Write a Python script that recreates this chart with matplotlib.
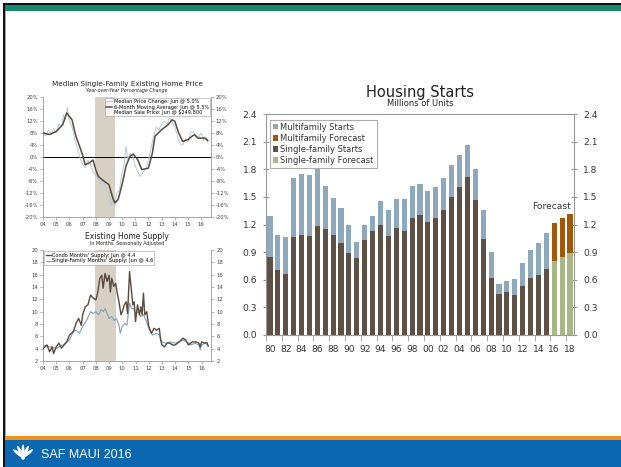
import matplotlib
matplotlib.use("Agg")
import matplotlib.pyplot as plt
from matplotlib.patches import Rectangle, Ellipse
import numpy as np

# Housing starts (millions of units)
start_years = list(range(1980, 2016))
total_starts = [1.292, 1.084, 1.062, 1.703, 1.750, 1.742, 1.805, 1.621, 1.488, 1.376,
                1.193, 1.014, 1.200, 1.288, 1.457, 1.354, 1.477, 1.474, 1.617, 1.641,
                1.569, 1.603, 1.705, 1.848, 1.956, 2.068, 1.801, 1.355, 0.906, 0.554,
                0.587, 0.609, 0.781, 0.925, 1.003, 1.112]
single_starts = [0.852, 0.705, 0.663, 1.068, 1.084, 1.072, 1.179, 1.146, 1.081, 1.003,
                 0.895, 0.840, 1.030, 1.126, 1.198, 1.076, 1.161, 1.134, 1.271, 1.302,
                 1.231, 1.273, 1.359, 1.499, 1.611, 1.716, 1.465, 1.046, 0.622, 0.445,
                 0.471, 0.431, 0.535, 0.618, 0.648, 0.715]
fc_years = [2016, 2017, 2018]
fc_total = [1.22, 1.27, 1.31]
fc_single = [0.80, 0.85, 0.89]

# Median single-family existing home price, y/y % change
price_x = [2004.0, 2004.2, 2004.4, 2004.6, 2004.8, 2005.0, 2005.2, 2005.4, 2005.55, 2005.7,
           2005.85, 2006.0, 2006.2, 2006.4, 2006.6, 2006.8, 2007.0, 2007.2, 2007.4, 2007.6,
           2007.8, 2008.0, 2008.2, 2008.4, 2008.6, 2008.8, 2009.0, 2009.15, 2009.3, 2009.45,
           2009.6, 2009.8, 2010.0, 2010.15, 2010.3, 2010.45, 2010.6, 2010.8, 2011.0, 2011.2,
           2011.4, 2011.6, 2011.8, 2012.0, 2012.2, 2012.4, 2012.6, 2012.8, 2013.0, 2013.2,
           2013.4, 2013.6, 2013.8, 2014.0, 2014.2, 2014.4, 2014.6, 2014.8, 2015.0, 2015.2,
           2015.4, 2015.6, 2015.8, 2016.0, 2016.2, 2016.4, 2016.5]
price_chg = [8.5, 7.0, 9.0, 7.5, 9.5, 8.0, 11.0, 10.0, 14.0, 12.5,
             16.5, 12.0, 10.0, 6.0, 3.0, 0.0, -2.5, -3.5, -1.0, -2.5,
             -5.0, -6.0, -7.5, -9.0, -8.0, -11.0, -12.0, -16.5, -14.0, -16.5,
             -12.0, -11.0, -5.0, -3.0, 3.5, -1.0, 1.0, 0.5, -3.0, -5.0,
             -6.5, -5.0, -4.0, -1.0, 3.0, 7.0, 10.0, 9.0, 11.0, 12.0,
             11.0, 13.0, 11.5, 10.0, 7.0, 4.5, 4.0, 6.0, 5.0, 8.0,
             8.5, 7.0, 6.5, 8.0, 5.5, 6.0, 5.0]
ma_x = [2004.0, 2004.5, 2005.0, 2005.5, 2005.8, 2006.2, 2006.5, 2007.0, 2007.2, 2007.5,
        2007.8, 2008.0, 2008.2, 2008.5, 2009.0, 2009.3, 2009.45, 2009.7, 2010.0, 2010.3,
        2010.6, 2010.85, 2011.2, 2011.5, 2012.0, 2012.3, 2012.5, 2013.0, 2013.5, 2013.8,
        2014.0, 2014.3, 2014.6, 2015.0, 2015.3, 2015.5, 2015.75, 2016.0, 2016.3, 2016.5]
ma_chg = [8.0, 7.5, 8.5, 10.8, 14.7, 12.4, 6.9, 0.8, -2.6, -2.0,
          -1.0, -4.2, -6.5, -7.6, -9.2, -13.7, -15.3, -14.2, -9.2, -3.0,
          0.2, 1.0, -1.0, -4.2, -3.7, 1.3, 6.9, 9.1, 10.8, 12.4,
          11.9, 8.0, 5.2, 5.8, 6.9, 7.4, 6.3, 6.3, 6.3, 5.5]

# Existing home supply, months
condo_x = [2004.0, 2004.3, 2004.5, 2004.7, 2004.8, 2005.0, 2005.2, 2005.4, 2005.6, 2005.8,
           2006.0, 2006.3, 2006.5, 2006.7, 2006.9, 2007.0, 2007.2, 2007.4, 2007.6, 2007.8,
           2008.0, 2008.15, 2008.3, 2008.45, 2008.55, 2008.7, 2008.85, 2009.0, 2009.1, 2009.2,
           2009.35, 2009.5, 2009.6, 2009.75, 2009.9, 2010.0, 2010.15, 2010.3, 2010.4, 2010.55,
           2010.65, 2010.8, 2010.9, 2011.0, 2011.15, 2011.3, 2011.4, 2011.5, 2011.6, 2011.7,
           2011.85, 2012.0, 2012.2, 2012.4, 2012.6, 2012.8, 2012.9, 2013.0, 2013.2, 2013.4,
           2013.6, 2013.8, 2014.0, 2014.3, 2014.6, 2014.8, 2015.0, 2015.3, 2015.6, 2015.8,
           2015.9, 2016.0, 2016.2, 2016.4, 2016.5]
condo_sup = [4.05, 4.6, 3.5, 4.3, 3.2, 4.3, 4.9, 4.1, 4.6, 5.1,
             6.2, 6.8, 8.1, 8.9, 7.8, 9.5, 10.8, 11.1, 12.7, 12.2,
             11.9, 13.2, 15.4, 15.9, 13.8, 16.2, 14.9, 15.9, 13.2, 15.4,
             14.1, 14.6, 13.2, 11.6, 9.5, 10.0, 11.1, 11.6, 9.7, 16.5,
             14.3, 11.1, 11.6, 8.4, 11.1, 9.5, 10.8, 9.5, 13.0, 9.5,
             10.0, 7.6, 6.5, 7.3, 7.0, 7.3, 5.4, 4.6, 4.3, 4.9,
             4.9, 4.6, 4.6, 5.1, 5.7, 5.4, 4.6, 5.1, 5.1, 4.9,
             4.3, 5.1, 4.9, 5.0, 4.4]
sf_x = [2004.0, 2004.5, 2005.0, 2005.5, 2006.0, 2006.3, 2006.5, 2006.75, 2007.0, 2007.3,
        2007.6, 2007.8, 2008.0, 2008.2, 2008.4, 2008.55, 2008.7, 2008.85, 2009.0, 2009.2,
        2009.4, 2009.55, 2009.75, 2009.85, 2010.0, 2010.2, 2010.35, 2010.55, 2010.7, 2010.85,
        2011.0, 2011.2, 2011.4, 2011.6, 2011.8, 2012.0, 2012.3, 2012.6, 2012.8, 2013.0,
        2013.3, 2013.6, 2014.0, 2014.3, 2014.6, 2014.9, 2015.2, 2015.5, 2015.8, 2015.9,
        2016.0, 2016.3, 2016.5]
sf_sup = [4.6, 4.3, 4.05, 4.6, 5.4, 6.8, 7.0, 6.5, 7.6, 8.6,
          10.0, 9.7, 10.0, 9.5, 10.3, 10.0, 10.5, 9.7, 8.9, 9.2,
          8.6, 8.9, 7.8, 6.5, 7.6, 8.1, 7.8, 11.4, 10.5, 10.5,
          9.7, 10.0, 9.2, 9.5, 8.6, 7.3, 6.2, 6.5, 6.2, 5.1,
          4.9, 5.1, 4.9, 5.1, 5.4, 5.1, 4.6, 4.9, 4.6, 3.8,
          4.6, 4.9, 4.5]

recession = (2007.95, 2009.5)
yr_labels = ["04", "05", "06", "07", "08", "09", "10", "11", "12", "13", "14", "15", "16"]

W, H = 621, 467
fig = plt.figure(figsize=(W / 100, H / 100), dpi=100)
plt.rcParams['font.family'] = ['DejaVu Sans']


def px_axes(left, top, right, bottom):
    return fig.add_axes([left / W, 1 - bottom / H, (right - left) / W, (bottom - top) / H])


def fig_rect(x0, y0, x1, y1, color):
    fig.add_artist(Rectangle((x0 / W, 1 - y1 / H), (x1 - x0) / W, (y1 - y0) / H,
                             transform=fig.transFigure, color=color, lw=0, zorder=0))


# slide frame
fig_rect(3, 3, W, 5, "#111111")
fig_rect(3, 5, W, 11, "#168a6e")
fig_rect(3, 3, 4.5, H, "#111111")
fig_rect(4.5, 11, 6, 436, "#aaaaaa")
fig_rect(5, 436, W, 440, "#f0901e")
fig_rect(5, 440, W, H, "#0a67b0")
fig.text(41 / W, 1 - 455 / H, "SAF MAUI 2016", color="white", fontsize=9,
         family=["Liberation Sans Narrow", "Liberation Sans", "DejaVu Sans"],
         va="center", ha="left")
# logo: small fan of leaves
lax = px_axes(12, 442, 34, 466)
lax.set_xlim(-1, 1)
lax.set_ylim(-1, 1)
lax.axis("off")
for ang in [-55, -28, 0, 28, 55]:
    r = np.deg2rad(ang)
    lax.add_patch(Ellipse((0.45 * np.sin(r), 0.1 + 0.35 * np.cos(r) - 0.3), 0.28, 1.3,
                          angle=-ang, color="white", lw=0))

grey = "#999999"
tcol = "#333333"

# ---------- Housing starts ----------
ax = px_axes(266, 114, 574, 335)
mf_starts = [t - s for t, s in zip(total_starts, single_starts)]
mf_fc = [t - s for t, s in zip(fc_total, fc_single)]
bw = 0.65
ax.bar(start_years, single_starts, width=bw, color="#5e5044", label="Single-family Starts", zorder=2)
ax.bar(start_years, mf_starts, width=bw, bottom=single_starts, color="#8ea9bd", label="Multifamily Starts", zorder=2)
ax.bar(fc_years, fc_single, width=bw, color="#a9b685", label="Single-family Forecast", zorder=2)
ax.bar(fc_years, mf_fc, width=bw, bottom=fc_single, color="#a3570a", label="Multifamily Forecast", zorder=2)
ax.set_xlim(1979.5, 2018.5)
ax.set_ylim(0, 2.4)
ax.set_yticks(np.arange(0, 2.41, 0.3))
ax.set_yticklabels([f"{v:.1f}" for v in np.arange(0, 2.41, 0.3)])
ax.set_xticks(range(1980, 2019, 2))
ax.set_xticklabels([f"{y % 100:02d}" for y in range(1980, 2019, 2)])
ax.set_xticks(np.arange(1979.5, 2018, 2), minor=True)
ax.tick_params(axis="x", which="major", length=0, labelsize=6.6, colors=tcol, pad=7)
ax.tick_params(axis="x", which="minor", length=4, color=grey)
ax.tick_params(axis="y", direction="inout", length=5, color=grey, labelsize=6.6,
               labelcolor=tcol, right=True, labelright=True, pad=4)
for s in ax.spines.values():
    s.set_color(grey)
    s.set_linewidth(0.8)
h, l = ax.get_legend_handles_labels()
order = [1, 3, 0, 2]
leg = ax.legend([h[i] for i in order], [l[i] for i in order], loc="upper left",
                bbox_to_anchor=(0.005, 0.985), fontsize=6.0, frameon=True, fancybox=False,
                handlelength=0.6, handleheight=0.6, handletextpad=0.3, labelspacing=0.25,
                borderpad=0.35, borderaxespad=0.3)
leg.get_frame().set_edgecolor(grey)
leg.get_frame().set_linewidth(0.8)
for t in leg.get_texts():
    t.set_color(tcol)
ax.text(2018.1, 1.40, "Forecast", fontsize=6.6, color=tcol, ha="right", va="center")
fig.text(420 / W, 1 - 93 / H, "Housing Starts", fontsize=10.5, ha="center", va="center", color="#222222")
fig.text(420 / W, 1 - 104 / H, "Millions of Units", fontsize=6.0, ha="center", va="center", color="#222222")


def small_axes(axs, ylo, yhi, step, fmt):
    axs.set_xlim(2004, 2016.75)
    axs.set_ylim(ylo, yhi)
    ticks = np.arange(ylo, yhi + 0.01, step)
    axs.set_yticks(ticks)
    axs.set_yticklabels([fmt(v) for v in ticks])
    axs.set_xticks(range(2004, 2017))
    axs.set_xticklabels(yr_labels)
    axs.tick_params(labelsize=3.8, colors="#444444", length=2, width=0.5,
                    right=True, labelright=True, pad=1.5)
    axs.tick_params(axis="y", color=grey)
    axs.tick_params(axis="x", color=grey)
    for k, s in axs.spines.items():
        s.set_color(grey)
        s.set_linewidth(0.6)
    axs.spines["top"].set_visible(False)
    axs.axvspan(*recession, color="#d6d1c4", lw=0, zorder=0)


# ---------- Median price ----------
ax1 = px_axes(43, 97, 211, 217)
small_axes(ax1, -20, 20, 4, lambda v: f"{v:.0f}%")
ax1.axhline(0, color="black", lw=0.7, zorder=1)
ax1.plot(price_x, price_chg, color="#b4cad9", lw=0.7, zorder=2,
         label="Median Price Change: Jun @ 5.0%")
ax1.plot(ma_x, ma_chg, color="#5a4a3e", lw=1.1, zorder=3,
         label="6-Month Moving Average: Jun @ 5.5%")
ax1.plot([], [], color="none", label="Median Sale Price: Jun @ \\$249,800")
lg1 = ax1.legend(loc="upper right", bbox_to_anchor=(1.0, 1.0), fontsize=3.6, frameon=True,
                 fancybox=False, handlelength=1.2, handletextpad=0.3, labelspacing=0.1,
                 borderpad=0.25, borderaxespad=0.15)
lg1.get_frame().set_edgecolor(grey)
lg1.get_frame().set_linewidth(0.5)
fig.text(127 / W, 1 - 84 / H, "Median Single-Family Existing Home Price", fontsize=5.2,
         ha="center", va="center", color="#222222")
fig.text(127 / W, 1 - 90.5 / H, "Year-over-Year Percentage Change", fontsize=3.4,
         ha="center", va="center", color="#222222", style="italic")

# ---------- Home supply ----------
ax2 = px_axes(43, 250, 211.5, 361)
small_axes(ax2, 2, 20, 2, lambda v: f"{v:.0f}")
ax2.plot(condo_x, condo_sup, color="#5a4a3e", lw=1.0, zorder=3,
         label="Condo Months' Supply: Jun @ 4.4")
ax2.plot(sf_x, sf_sup, color="#7fa0bb", lw=0.8, zorder=2,
         label="Single-Family Months' Supply: Jun @ 4.6")
lg2 = ax2.legend(loc="upper left", bbox_to_anchor=(0.0, 1.0), fontsize=3.6, frameon=True,
                 fancybox=False, handlelength=1.0, handletextpad=0.2, labelspacing=0.15,
                 borderpad=0.3, borderaxespad=0.2)
lg2.get_frame().set_edgecolor(grey)
lg2.get_frame().set_linewidth(0.5)
fig.text(127 / W, 1 - 237 / H, "Existing Home Supply", fontsize=5.5,
         ha="center", va="center", color="#222222")
fig.text(127 / W, 1 - 243.5 / H, "In Months, Seasonally Adjusted", fontsize=3.4,
         ha="center", va="center", color="#222222")

fig.savefig("out.png", dpi=100)
